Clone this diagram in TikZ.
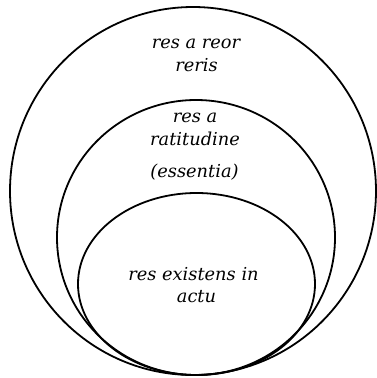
\documentclass[tikz,border=0pt]{standalone}
\usepackage{fontspec}
\setmainfont{DejaVu Serif}
\begin{document}
\begin{tikzpicture}[x=1pt,y=-1pt,
  ring/.style={draw=black,line width=1.8pt},
  lbl/.style={anchor=base,inner sep=0pt,font=\fontsize{17.8}{23}\selectfont\itshape}]
\useasboundingbox (0,0) rectangle (376,378);
\draw[ring] (193,191) ellipse [x radius=183,y radius=184];
\draw[ring] (196,237.5) ellipse [x radius=139,y radius=137.5];
\draw[ring] (196.5,284) ellipse [x radius=118.5,y radius=91];
\node[lbl] (t1) at (196,48) {res a reor};
\node[lbl] (t2) at (196.5,71) {reris};
\node[lbl] (t3) at (195,122) {res a};
\node[lbl] (t4) at (195,145) {ratitudine};
\node[lbl] (t5) at (194.5,177) {(essentia)};
\node[lbl] (t6) at (193.5,280) {res existens in};
\node[lbl] (t7) at (196.5,302) {actu};
\end{tikzpicture}
\end{document}
